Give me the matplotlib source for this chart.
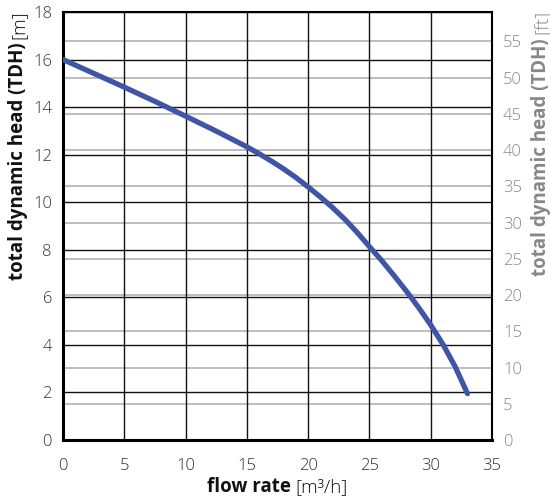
import matplotlib
matplotlib.use("Agg")
import matplotlib.pyplot as plt

flow = [0, 2.5, 5, 7.5, 10, 12.5, 15, 16, 17, 18, 19, 20, 21, 22, 23, 24, 25,
        26, 27, 28, 29, 30, 31, 32, 33]
head_m = [16.0, 15.42, 14.84, 14.24, 13.62, 12.99, 12.33, 12.04, 11.73, 11.40, 11.04, 10.64,
          10.22, 9.77, 9.28, 8.73, 8.13, 7.55, 6.92, 6.27, 5.58, 4.84, 4.02, 3.08, 1.95]
x_ticks = [0, 5, 10, 15, 20, 25, 30, 35]
y_ticks_m = [0, 2, 4, 6, 8, 10, 12, 14, 16, 18]
y_ticks_ft = [0, 5, 10, 15, 20, 25, 30, 35, 40, 45, 50, 55]
M_TO_FT = 3.28084

FAM = ['Open Sans', 'DejaVu Sans']
plt.rcParams['font.family'] = FAM

W, H = 550, 504
fig = plt.figure(figsize=(W / 100, H / 100), dpi=100)
L, R, B, T = 63, 492, 440, 12
ax = fig.add_axes([L / W, 1 - B / H, (R - L) / W, (B - T) / H])

ax.set_xlim(0, 35)
ax.set_ylim(0, 18)

for v in y_ticks_ft:
    ax.axhline(v / M_TO_FT, color='#b8b8b8', lw=1.3, zorder=1)
for v in x_ticks:
    ax.axvline(v, color='#111111', lw=1.0, zorder=2)
for v in y_ticks_m:
    ax.axhline(v, color='#111111', lw=1.0, zorder=2)

ax.plot(flow, head_m, color='#3f55a6', lw=3.8, solid_capstyle='round',
        solid_joinstyle='round', zorder=3)

ax.set_xticks(x_ticks)
ax.set_yticks(y_ticks_m)
ax.tick_params(axis='y', length=0, labelsize=12, colors='#333333', pad=8)
ax.tick_params(axis='x', length=0, labelsize=12, colors='#333333', pad=13)

for s in ['left', 'bottom']:
    ax.spines[s].set_linewidth(2.2)
for s in ['top', 'right']:
    ax.spines[s].set_linewidth(1.5)

ax2 = ax.twinx()
ax2.set_ylim(0, 18 * M_TO_FT)
ax2.set_yticks(y_ticks_ft)
ax2.tick_params(length=0, labelsize=12, colors='#888888', pad=8)
for s in ax2.spines.values():
    s.set_visible(False)

for lab in ax.get_xticklabels() + ax.get_yticklabels() + ax2.get_yticklabels():
    lab.set_fontweight('light')

# ---- axis titles: bold part + regular part ----
px = lambda x: x / W
py = lambda y: 1 - y / H

def vlabel(x_base, y_top, bold, reg, color):
    t_reg = fig.text(px(x_base), py(y_top), reg, rotation=90, rotation_mode='anchor',
                     ha='right', va='baseline', fontsize=13.5, color=color,
                     fontweight='light')
    t_b = fig.text(px(x_base), py(y_top), bold, rotation=90, rotation_mode='anchor',
                   ha='right', va='baseline', fontsize=13.5, color=color,
                   fontweight='bold')
    return t_reg, t_b

lreg, lb = vlabel(23, 10, "total dynamic head (TDH)", "[m]", '#111111')
rreg, rb = vlabel(546, 10, "total dynamic head (TDH)", "[ft]", '#888888')
xb = fig.text(0, py(492), "flow rate", ha='left', va='baseline', fontsize=13.5,
              fontweight='bold', color='#111111')
xr = fig.text(0, py(492), "[m³/h]", ha='left', va='baseline', fontsize=13.5,
              color='#111111', fontweight='light')

fig.canvas.draw()
r = fig.canvas.get_renderer()
gap = 4
for reg, b, xbase in [(lreg, lb, 23), (rreg, rb, 546)]:
    h = reg.get_window_extent(r).height
    b.set_position((px(xbase), py(10 + h + gap)))
wb = xb.get_window_extent(r).width
wr = xr.get_window_extent(r).width
x0 = (L + R) / 2 - (wb + gap + wr) / 2
xb.set_position((px(x0), py(492)))
xr.set_position((px(x0 + wb + gap), py(492)))

fig.savefig("out.png", dpi=100)
